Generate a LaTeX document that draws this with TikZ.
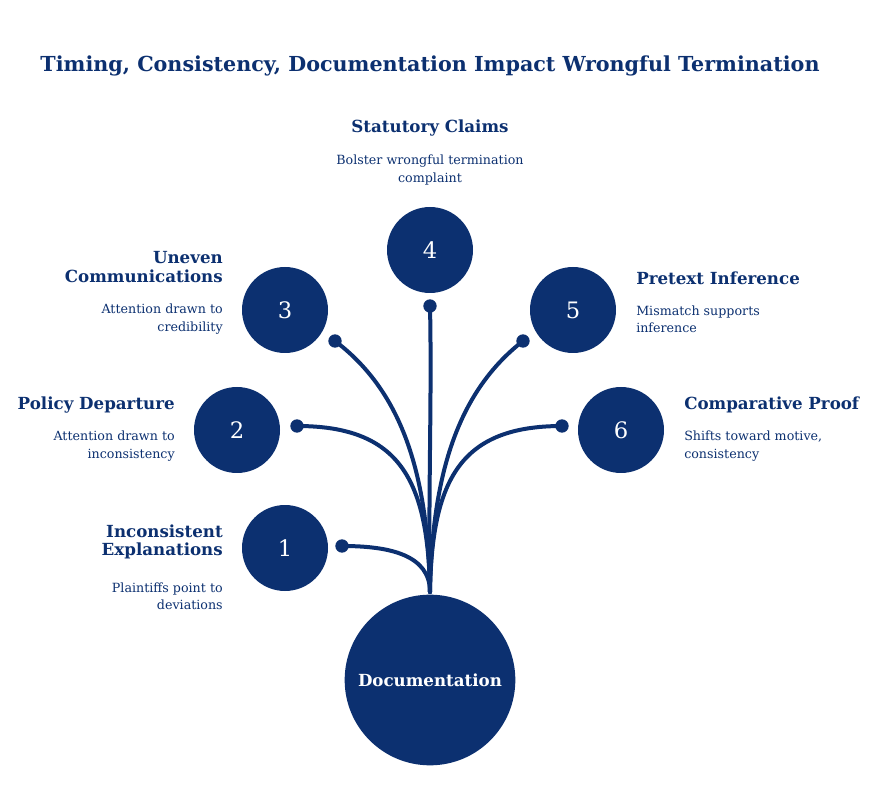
\documentclass[tikz,border=0pt]{standalone}
\usepackage{fontspec}
\setmainfont{DejaVu Serif}
\definecolor{navy}{RGB}{12,48,112}
\tikzset{
    px/.style={x=0.75pt, y=-0.75pt},
    stage/.style={circle, fill=navy, text=white, minimum size=64.5pt, inner sep=0, font=\fontsize{17}{17}\selectfont},
    dot/.style={circle, fill=navy, minimum size=10pt, inner sep=0},
    stem/.style={draw=navy, line width=3pt, line cap=round},
    head/.style={text=navy, font=\fontsize{12.5}{14}\selectfont\bfseries, inner sep=0},
    note/.style={text=navy, font=\fontsize{9.5}{13}\selectfont, inner sep=0}
}
\begin{document}
\begin{tikzpicture}[px]
\useasboundingbox (0,0) rectangle (879,809);
% title
\node[head, font=\fontsize{15.5}{18}\selectfont\bfseries] (title) at (430,66) {Timing, Consistency, Documentation Impact Wrongful Termination};
% root
\node[circle, fill=navy, text=white, minimum size=128pt, inner sep=0, font=\fontsize{12.5}{14}\selectfont\bfseries] (doc) at (430,680) {Documentation};
\coordinate (root) at (430,592);
% stages
\node[stage] (s1) at (285,548) {1};
\node[stage] (s2) at (237,430) {2};
\node[stage] (s3) at (285,310) {3};
\node[stage] (s4) at (430,250) {4};
\node[stage] (s5) at (573,310) {5};
\node[stage] (s6) at (621,430) {6};
\node[dot] (d1) at (342,546) {};
\node[dot] (d2) at (297,426) {};
\node[dot] (d3) at (335,341) {};
\node[dot] (d4) at (430,306) {};
\node[dot] (d5) at (523,341) {};
\node[dot] (d6) at (562,426) {};
% stems
\draw[stem] (d1.center) .. controls (390,546) and (430,555) .. (root);
\draw[stem] (d2.center) .. controls (400,426) and (428,480) .. (root);
\draw[stem] (d3.center) .. controls (400,390) and (428,470) .. (root);
\draw[stem] (d4.center) .. controls (432,400) and (428,500) .. (root);
\draw[stem] (d5.center) .. controls (460,390) and (432,470) .. (root);
\draw[stem] (d6.center) .. controls (460,426) and (432,480) .. (root);
% labels
\node[head] (h4) at (430,128) {Statutory Claims};
\node[note, align=center] (n4) at (430,170) {Bolster wrongful termination\\complaint};
\node[head, align=right, anchor=east] (h3) at (223,267) {Uneven\\Communications};
\node[note, align=right, anchor=east] (n3) at (223,319) {Attention drawn to\\credibility};
\node[head, anchor=east] (h2) at (175,405) {Policy Departure};
\node[note, align=right, anchor=east] (n2) at (175,446) {Attention drawn to\\inconsistency};
\node[head, align=right, anchor=east] (h1) at (223,542) {Inconsistent\\Explanations};
\node[note, align=right, anchor=east] (n1) at (223,596) {Plaintiffs point to\\deviations};
\node[head, anchor=west] (h5) at (636,278) {Pretext Inference};
\node[note, align=left, anchor=west] (n5) at (636,319) {Mismatch supports\\inference};
\node[head, anchor=west] (h6) at (684,405) {Comparative Proof};
\node[note, align=left, anchor=west] (n6) at (684,446) {Shifts toward motive,\\consistency};
\end{tikzpicture}
\end{document}
